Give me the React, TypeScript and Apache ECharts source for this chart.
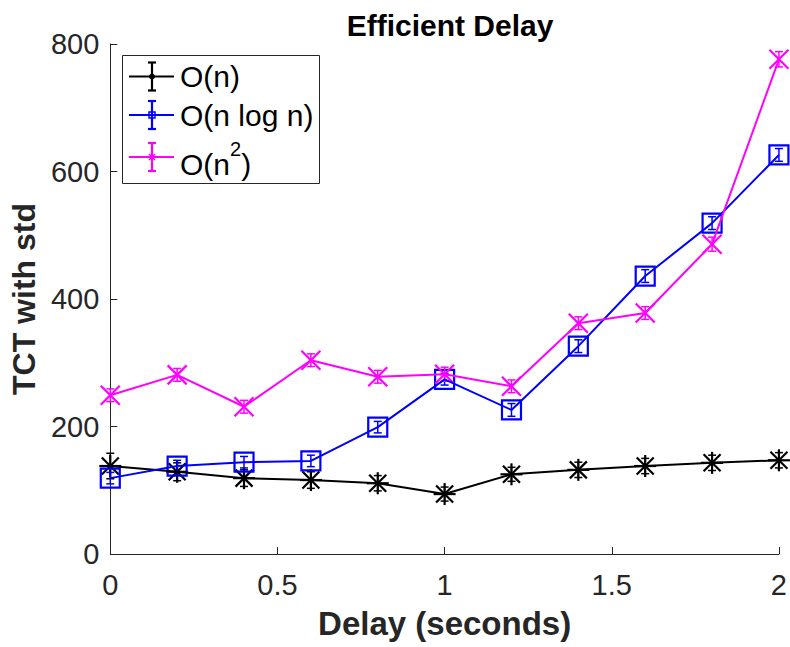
import React, { useEffect, useRef } from "react";
import * as echarts from "echarts";

const delays = [0, 0.2, 0.4, 0.6, 0.8, 1.0, 1.2, 1.4, 1.6, 1.8, 2.0];
const linearTCT = [138, 129, 119, 116, 111, 94, 125, 132, 138, 143, 147];
const linearStd = [20, 14, 13, 13, 12, 11, 11, 12, 12, 12, 12];
const nlognTCT = [119, 138, 144, 146, 199, 274, 226, 326, 436, 519, 626];
const nlognStd = [9, 9, 9, 9, 9, 9, 10, 10, 10, 10, 10];
const quadTCT = [249, 281, 231, 304, 278, 282, 263, 362, 378, 486, 776];
const quadStd = [10, 10, 10, 10, 10, 11, 10, 10, 10, 11, 12];
const seriesNames = ["O(n)", "O(n log n)", "O(n²)"];
const seriesColors = ["#000000", "#0000ff", "#ff00ff"];

const FONT = "Liberation Sans, Arial, Helvetica, sans-serif";
const AX = "#262626";

function lineSeries(name: string, ys: number[], color: string) {
  return {
    type: "line",
    name,
    data: delays.map((d, i) => [d, ys[i]]),
    symbol: "none",
    showSymbol: false,
    lineStyle: { color, width: 2 },
    itemStyle: { color },
    silent: true,
  };
}

function markerSeries(name: string, ys: number[], stds: number[], color: string, kind: string) {
  return {
    type: "custom",
    name,
    data: delays.map((d, i) => [d, ys[i], stds[i]]),
    encode: { x: 0, y: 1 },
    silent: true,
    renderItem: (params: any, api: any) => {
      const x = api.value(0);
      const y = api.value(1);
      const s = api.value(2);
      const c = api.coord([x, y]);
      const top = api.coord([x, y + s])[1];
      const bot = api.coord([x, y - s])[1];
      const st = { stroke: color, lineWidth: 1.5, fill: "none" };
      const cw = 4;
      const children: any[] = [
        { type: "line", shape: { x1: c[0], y1: top, x2: c[0], y2: bot }, style: st },
        { type: "line", shape: { x1: c[0] - cw, y1: top, x2: c[0] + cw, y2: top }, style: st },
        { type: "line", shape: { x1: c[0] - cw, y1: bot, x2: c[0] + cw, y2: bot }, style: st },
      ];
      const ms = { stroke: color, lineWidth: 2.2, fill: "none" };
      if (kind === "star") {
        const r = 11;
        const d = 8.5;
        children.push(
          { type: "line", shape: { x1: c[0], y1: c[1] - r, x2: c[0], y2: c[1] + r }, style: ms },
          { type: "line", shape: { x1: c[0] - r, y1: c[1], x2: c[0] + r, y2: c[1] }, style: ms },
          { type: "line", shape: { x1: c[0] - d, y1: c[1] - d, x2: c[0] + d, y2: c[1] + d }, style: ms },
          { type: "line", shape: { x1: c[0] - d, y1: c[1] + d, x2: c[0] + d, y2: c[1] - d }, style: ms }
        );
      } else if (kind === "square") {
        children.push({
          type: "rect",
          shape: { x: c[0] - 9.5, y: c[1] - 9.5, width: 19, height: 19 },
          style: ms,
        });
      } else {
        const r = 9.5;
        children.push(
          { type: "line", shape: { x1: c[0] - r, y1: c[1] - r, x2: c[0] + r, y2: c[1] + r }, style: ms },
          { type: "line", shape: { x1: c[0] - r, y1: c[1] + r, x2: c[0] + r, y2: c[1] - r }, style: ms }
        );
      }
      return { type: "group", children };
    },
  };
}

function legendGraphic() {
  const left = 122;
  const top = 55;
  const rows = [76.5, 115, 157];
  const els: any[] = [
    {
      type: "rect",
      shape: { x: left + 0.5, y: top + 0.5, width: 197, height: 128 },
      style: { fill: "#ffffff", stroke: AX, lineWidth: 1 },
      z: 10,
    },
  ];
  rows.forEach((ry, i) => {
    const col = seriesColors[i];
    const st = { stroke: col, lineWidth: 2.2, fill: "none" };
    els.push(
      { type: "line", shape: { x1: 129, y1: ry, x2: 174, y2: ry }, style: st, z: 11 },
      { type: "line", shape: { x1: 152, y1: ry - 14, x2: 152, y2: ry + 14 }, style: st, z: 11 },
      { type: "line", shape: { x1: 148, y1: ry - 14, x2: 156, y2: ry - 14 }, style: st, z: 11 },
      { type: "line", shape: { x1: 148, y1: ry + 14, x2: 156, y2: ry + 14 }, style: st, z: 11 }
    );
    if (i === 0) {
      els.push({ type: "circle", shape: { cx: 152, cy: ry, r: 3 }, style: { fill: col }, z: 12 });
    } else if (i === 1) {
      els.push({
        type: "rect",
        shape: { x: 149, y: ry - 3, width: 6, height: 6 },
        style: { fill: "none", stroke: col, lineWidth: 1.5 },
        z: 12,
      });
    } else {
      els.push(
        { type: "line", shape: { x1: 149, y1: ry - 3, x2: 155, y2: ry + 3 }, style: { stroke: col, lineWidth: 1.5 }, z: 12 },
        { type: "line", shape: { x1: 149, y1: ry + 3, x2: 155, y2: ry - 3 }, style: { stroke: col, lineWidth: 1.5 }, z: 12 }
      );
    }
  });
  els.push(
    {
      type: "text",
      x: 180,
      y: rows[0],
      z: 12,
      style: { text: seriesNames[0], font: `30px ${FONT}`, fill: "#000", textVerticalAlign: "middle" },
    },
    {
      type: "text",
      x: 180,
      y: rows[1],
      z: 12,
      style: { text: seriesNames[1], font: `30px ${FONT}`, fill: "#000", textVerticalAlign: "middle" },
    },
    {
      type: "text",
      x: 180,
      y: rows[2] + 2,
      z: 12,
      style: {
        text: "{a|O(n}{s|2}{a|)}",
        fill: "#000",
        textVerticalAlign: "middle",
        rich: {
          a: { fontSize: 30, fontFamily: FONT, fill: "#000", color: "#000", lineHeight: 40, verticalAlign: "bottom" },
          s: { fontSize: 20, fontFamily: FONT, fill: "#000", color: "#000", lineHeight: 40, verticalAlign: "top" },
        },
      },
    }
  );
  return els;
}

export default function App() {
  const ref = useRef<HTMLDivElement>(null);
  useEffect(() => {
    document.body.style.margin = "0";
    if (!ref.current) return;
    const chart = echarts.init(ref.current, null, { renderer: "svg" });
    chart.setOption({
      animation: false,
      backgroundColor: "#ffffff",
      title: {
        text: "Efficient Delay",
        left: 445,
        textAlign: "center",
        top: 5,
        textStyle: { fontSize: 30, fontWeight: "bold", color: "#000", fontFamily: FONT },
      },
      grid: { left: 110, right: 11, top: 44, bottom: 93 },
      xAxis: {
        type: "value",
        min: 0,
        max: 2,
        interval: 0.5,
        name: "Delay (seconds)",
        nameLocation: "middle",
        nameGap: 53,
        nameTextStyle: { fontSize: 33, fontWeight: "bold", color: AX, fontFamily: FONT },
        axisLine: { show: true, lineStyle: { color: AX, width: 1 } },
        axisTick: { show: true, inside: true, length: 7, lineStyle: { color: AX } },
        axisLabel: { fontSize: 29, color: AX, margin: 16, fontFamily: FONT },
        splitLine: { show: false },
      },
      yAxis: {
        type: "value",
        min: 0,
        max: 800,
        interval: 200,
        name: "TCT with std",
        nameLocation: "middle",
        nameGap: 69,
        nameTextStyle: { fontSize: 32, fontWeight: "bold", color: AX, fontFamily: FONT },
        axisLine: { show: true, lineStyle: { color: AX, width: 1 } },
        axisTick: { show: true, inside: true, length: 7, lineStyle: { color: AX } },
        axisLabel: { fontSize: 29, color: AX, margin: 11, fontFamily: FONT },
        splitLine: { show: false },
      },
      series: [
        lineSeries(seriesNames[0], linearTCT, seriesColors[0]),
        markerSeries(seriesNames[0], linearTCT, linearStd, seriesColors[0], "star"),
        lineSeries(seriesNames[1], nlognTCT, seriesColors[1]),
        markerSeries(seriesNames[1], nlognTCT, nlognStd, seriesColors[1], "square"),
        lineSeries(seriesNames[2], quadTCT, seriesColors[2]),
        markerSeries(seriesNames[2], quadTCT, quadStd, seriesColors[2], "x"),
      ],
      graphic: legendGraphic(),
    });
    return () => chart.dispose();
  }, []);
  return <div ref={ref} style={{ width: 790, height: 647 }} />;
}
